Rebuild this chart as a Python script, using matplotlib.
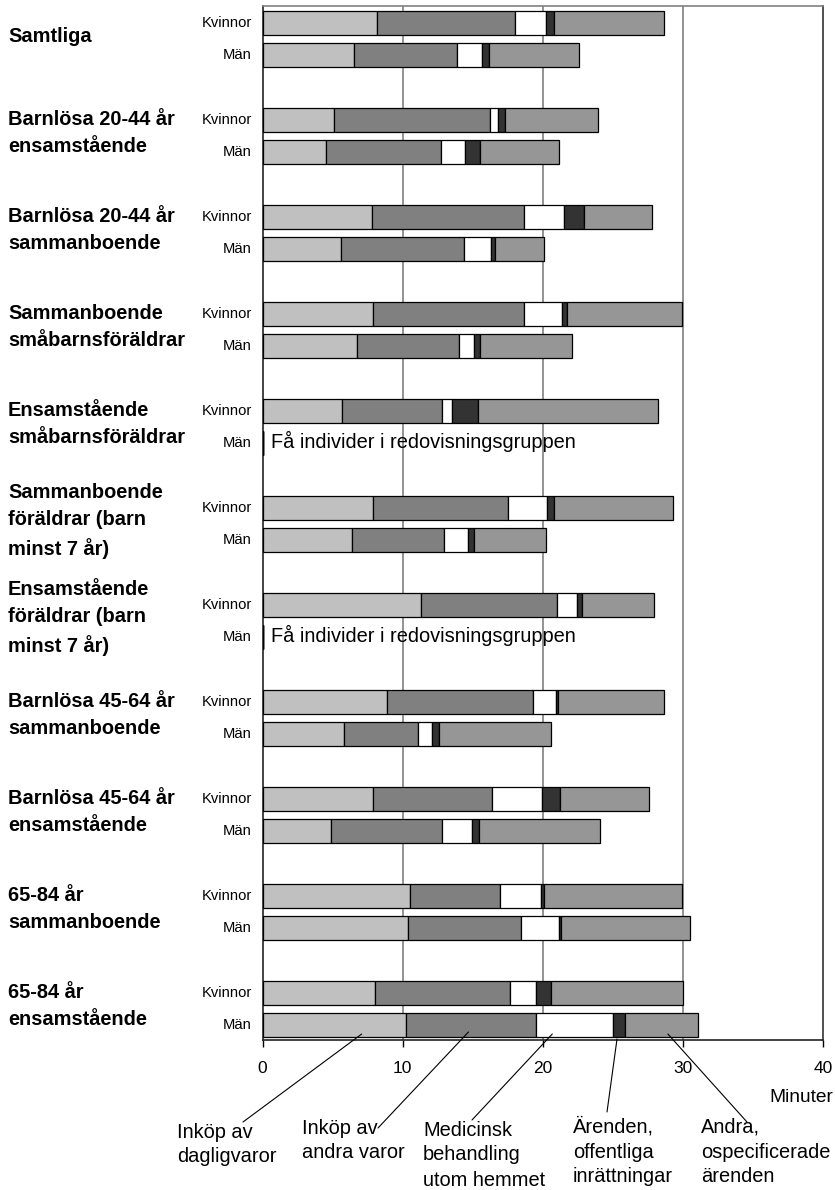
import matplotlib
matplotlib.use("Agg")
import matplotlib.pyplot as plt
import matplotlib.transforms as mtransforms
import numpy as np

plt.rcParams['font.family'] = ['Liberation Sans', 'DejaVu Sans']

# ---------------- data ----------------
groups = [
    "Samtliga",
    "Barnlösa 20-44 år\nensamstående",
    "Barnlösa 20-44 år\nsammanboende",
    "Sammanboende\nsmåbarnsföräldrar",
    "Ensamstående\nsmåbarnsföräldrar",
    "Sammanboende\nföräldrar (barn\nminst 7 år)",
    "Ensamstående\nföräldrar (barn\nminst 7 år)",
    "Barnlösa 45-64 år\nsammanboende",
    "Barnlösa 45-64 år\nensamstående",
    "65-84 år\nsammanboende",
    "65-84 år\nensamstående",
]
sexes = ["Kvinnor", "Män"]
series_names = [
    "Inköp av\ndagligvaror",
    "Inköp av\nandra varor",
    "Medicinsk\nbehandling\nutom hemmet",
    "Ärenden,\noffentliga\ninrättningar",
    "Andra,\nospecificerade\närenden",
]
# order: for each group Kvinnor, Män
dagligvaror = [8.16, 6.52, 5.10, 4.53, 7.78, 5.58, 7.90, 6.74, 5.69, 0, 7.92, 6.41,
               11.32, 0, 8.87, 5.84, 7.92, 4.91, 10.51, 10.37, 8.04, 10.25]
andra_varor = [9.84, 7.38, 11.15, 8.19, 10.89, 8.77, 10.77, 7.28, 7.14, 0, 9.61, 6.54,
               9.70, 0, 10.42, 5.24, 8.45, 7.93, 6.45, 8.11, 9.61, 9.25]
medicinsk = [2.24, 1.73, 0.55, 1.75, 2.83, 1.97, 2.68, 1.05, 0.69, 0, 2.78, 1.74,
             1.42, 0, 1.64, 1.04, 3.61, 2.11, 2.90, 2.66, 1.85, 5.48]
arenden_off = [0.56, 0.50, 0.52, 1.07, 1.44, 0.29, 0.38, 0.47, 1.88, 0, 0.50, 0.40,
               0.36, 0, 0.14, 0.48, 1.28, 0.49, 0.26, 0.16, 1.07, 0.86]
andra_ospec = [7.83, 6.43, 6.64, 5.60, 4.89, 3.51, 8.19, 6.55, 12.79, 0, 8.51, 5.15,
               5.12, 0, 7.57, 7.97, 6.33, 8.64, 9.80, 9.21, 9.47, 5.26]
few_note = "Få individer i redovisningsgruppen"
xticks = [0, 10, 20, 30, 40]
x_label = "Minuter"

series = [dagligvaror, andra_varor, medicinsk, arenden_off, andra_ospec]
colors = ["#C0C0C0", "#808080", "#FFFFFF", "#333333", "#969696"]

# ---------------- layout ----------------
W, H = 835, 1190
fig = plt.figure(figsize=(W / 100, H / 100), dpi=100)
ax_left, ax_right, ax_top, ax_bot = 262.5, 823, 6, 1040
ax = fig.add_axes([ax_left / W, 1 - ax_bot / H, (ax_right - ax_left) / W, (ax_bot - ax_top) / H])

# y positions in pixel-like units
ypos = []
for i in range(len(groups)):
    ypos += [23 + 97 * i, 55 + 97 * i]
ypos = np.array(ypos, dtype=float)

left = np.zeros(len(ypos))
for vals, col in zip(series, colors):
    v = np.array(vals, dtype=float)
    ax.barh(ypos, v, left=left, height=24, color=col, edgecolor="black",
            linewidth=0.9, zorder=3)
    left += v

ax.set_xlim(0, 40)
ax.set_ylim(ax_bot, ax_top)
ax.set_yticks([])
ax.set_xticks(xticks)
ax.set_xticklabels([str(t) for t in xticks], fontsize=12.5)
ax.tick_params(axis='x', direction='out', length=5, width=1, pad=10, colors='black')
for xv in xticks[1:-1]:
    ax.axvline(xv, color="#808080", lw=1.2, zorder=1)

ax.spines['left'].set_color('#222222')
ax.spines['bottom'].set_color('#222222')
ax.spines['top'].set_color('#808080')
ax.spines['right'].set_color('#333333')
for s in ax.spines.values():
    s.set_linewidth(1.2)

# Kvinnor / Män labels and notes
for idx, y in enumerate(ypos):
    ax.annotate(sexes[idx % 2], xy=(0, y), xytext=(-10.5, 0), textcoords='offset pixels',
                ha='right', va='center', fontsize=10.6)
    total = sum(s[idx] for s in series)
    if total == 0:
        ax.annotate(few_note, xy=(0, y), xytext=(8.5, 2), textcoords='offset pixels',
                    ha='left', va='center', fontsize=14.4)

# group labels
trans = mtransforms.blended_transform_factory(fig.transFigure, ax.transData)
for i, g in enumerate(groups):
    yc = 39 + 97 * i - 3
    ax.text(8 / W, yc, g, transform=trans, ha='left', va='center', fontsize=14.4,
            fontweight='bold', linespacing=1.52)

# x label
fig.text(833 / W, 1 - 1098 / H, x_label, ha='right', va='center', fontsize=13.8)

# leader lines and series labels
line_top_x = [7.08, 14.7, 20.68, 25.3, 28.93]
line_top_y = [1034, 1032, 1034, 1039, 1034]
line_bot = [(243, 1122), (378, 1128), (472, 1120), (607, 1112), (747, 1122)]
text_x = [177, 302, 423, 573, 701]
text_y0 = [1132, 1128, 1130, 1127, 1127]
for k, name in enumerate(series_names):
    ax.annotate("", xy=(line_top_x[k], line_top_y[k]), xycoords='data',
                xytext=(line_bot[k][0], H - line_bot[k][1]), textcoords='figure pixels',
                arrowprops=dict(arrowstyle='-', lw=0.8, color='black', shrinkA=0, shrinkB=0),
                annotation_clip=False)
    for j, line in enumerate(name.split("\n")):
        fig.text(text_x[k] / W, 1 - (text_y0[k] + 25 * j) / H, line, ha='left',
                 va='center', fontsize=14.4)

fig.savefig("out.png", dpi=100)
